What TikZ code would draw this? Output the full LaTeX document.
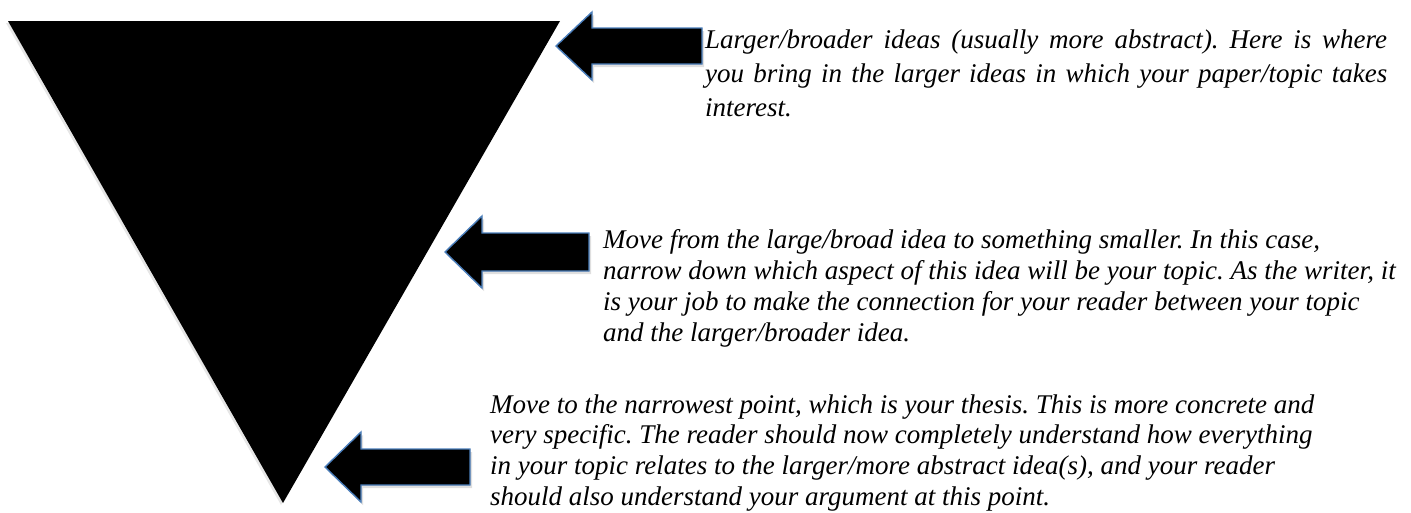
\documentclass[tikz,border=0pt]{standalone}
\usepackage{fontspec}
\setmainfont{Liberation Serif}
\usetikzlibrary{shadows}
\definecolor{arrowblue}{HTML}{4A7EBB}
\tikzset{
  bigarrow/.style={fill=black, draw=arrowblue, line width=1.4pt, line join=miter,
    drop shadow={opacity=0.25, shadow xshift=2pt, shadow yshift=-3pt}},
  funnel/.style={fill=black, draw=none,
    drop shadow={opacity=0.2, shadow xshift=-2pt, shadow yshift=-2pt}},
  txt/.style={anchor=base west, inner sep=0pt, font=\fontsize{27}{31}\selectfont\itshape\frenchspacing}
}
\begin{document}
\begin{tikzpicture}[x=1pt, y=-1pt]
\useasboundingbox (0,0) rectangle (1411,512);
% inverted triangle
\path[funnel] (8,21) -- (560,21) -- (283,503) -- cycle;
% arrow 1
\path[bigarrow] (556,46) -- (592,12) -- (592,28) -- (702,28) -- (702,64) -- (592,64) -- (592,80) -- cycle;
% arrow 2
\path[bigarrow] (445,252) -- (482,216) -- (482,233) -- (589,233) -- (589,271) -- (482,271) -- (482,288) -- cycle;
% arrow 3
\path[bigarrow] (325,467) -- (361,432) -- (361,449) -- (470,449) -- (470,485) -- (361,485) -- (361,502) -- cycle;
% block 1
\node[txt] (a1) at (705,48) {\makebox[682pt][s]{Larger/broader ideas (usually more abstract). Here is where}};
\node[txt] (a2) at (705,82) {\makebox[682pt][s]{you bring in the larger ideas in which your paper/topic takes}};
\node[txt] (a3) at (705,116) {interest.};
% block 2
\node[txt] (b1) at (603,248) {Move from the large/broad idea to something smaller. In this case,};
\node[txt] (b2) at (603,279) {narrow down which aspect of this idea will be your topic. As the writer, it};
\node[txt] (b3) at (603,310) {is your job to make the connection for your reader between your topic};
\node[txt] (b4) at (603,341) {and the larger/broader idea.};
% block 3
\node[txt] (c1) at (490,413) {Move to the narrowest point, which is your thesis. This is more concrete and};
\node[txt] (c2) at (490,443) {very specific. The reader should now completely understand how everything};
\node[txt] (c3) at (490,474) {in your topic relates to the larger/more abstract idea(s), and your reader};
\node[txt] (c4) at (490,505) {should also understand your argument at this point.};
\end{tikzpicture}
\end{document}
